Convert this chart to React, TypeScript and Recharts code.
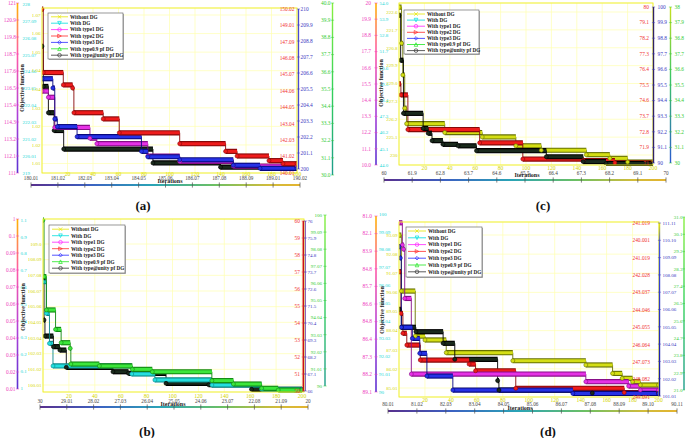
import React from 'react';
import { ComposedChart, Line, Scatter, ErrorBar, XAxis, YAxis, CartesianGrid } from 'recharts';

const W = 685;
const H = 438;
const SERIF = '"Liberation Serif", "DejaVu Serif", serif';

const ITER_TICKS = [20, 40, 60, 80, 100, 120, 140, 160, 180, 200];

const NAMES = ['Without DG', 'With DG', 'With type1 DG', 'With type2 DG', 'With type3 DG', 'With type0.9 pf DG', 'With type@unity pf DG'];
const CORE = ['#d4de14', '#24dede', '#e632e6', '#ee1c1c', '#2632e6', '#3ce63c', '#1a2a1c'];
const EDGE = ['#667000', '#0a8888', '#880e88', '#880808', '#08087e', '#108810', '#000000'];
const LEG_LINE = ['#e6e600', '#00dede', '#ff22ff', '#ff2a2a', '#2a2aff', '#22e622', '#333333'];
const LEG_MARK = ['x', 'tdown', 'circle', 'tright', 'diamond', 'tup', 'circle'];

const T_PINK = '#ee3cbe';
const T_CYAN = '#22d6d6';
const T_YEL = '#d6d600';
const T_RED = '#f03232';
const T_BLUE = '#3a3ac2';
const T_GREEN = '#34cc34';

const GR_PINK = [[0, '#ffb400'], [0.3, '#ff5aa8'], [0.65, '#b040d8'], [1, '#5a32d2']];
const GR_GREEN = [[0, '#88f040'], [0.5, '#34d25a'], [1, '#1c9c8c']];
const GR_GREEN_C = [[0, '#c8e020'], [0.45, '#3cc864'], [1, '#2a5ad0']];
const GR_BLUE_D = [[0, '#e8e800'], [0.12, '#4050e0'], [1, '#12129c']];
const GR_BAR = [[0, '#58308e'], [0.22, '#3c62c2'], [0.45, '#2aa4b6'], [0.68, '#6cc064'], [0.88, '#d0bc3c'], [1, '#e4b430']];

// ---------- (a) ----------
const A_PINK = ['111', '112.1', '113.2', '114.3', '115.4', '116.5', '117.6', '118.7', '119.8', '120.9', '121'];
const A_CYAN = ['219', '220.01', '221.02', '222.03', '222.04', '223.05', '224.06', '225.07', '226.08', '227.09', '228'];
const A_YEL = ['1.01', '1.02', '1.02', '1.03', '1.04', '1.04', '1.05', '1.06', '1.07'];
const A_RED = ['140.01', '141.02', '142.03', '143.04', '144.05', '144.06', '145.07', '146.08', '147.09', '149.01', '150.02'];
const A_BLUE = ['200', '201.1', '202.2', '203.3', '204.4', '205.5', '206.6', '207.7', '208.8', '209.9', '210'];
const A_GREEN = ['30.0', '31.1', '32.2', '33.3', '34.4', '35.5', '36.6', '37.7', '38.8', '39.9', '40.0'];
const A_BAR = ['180.01', '181.02', '182.03', '183.04', '184.05', '185.06', '186.07', '187.08', '188.09', '189.01', '190.02'];

const A_RED_X = [0, 1, 16.7, 24, 25, 48, 60.6, 108, 144, 153, 178, 189, 200];
const A_RED_Y = [121.6, 117.5, 116.7, 116.5, 114.9, 114.5, 113.6, 112.9, 112.4, 112.1, 111.8, 111.6, 111.6];
const A_BLUE_X = [0, 8.5, 10, 12, 27.5, 78, 83, 108, 150, 171, 200];
const A_BLUE_Y = [117.1, 116.5, 114.5, 114.0, 113.35, 112.4, 112.05, 111.85, 111.5, 111.3, 111.3];
const A_MAG_X = [0, 5, 10, 37.6, 43, 83, 108, 150, 200];
const A_MAG_Y = [116.3, 115.9, 113.95, 113.25, 112.9, 112.1, 111.75, 111.45, 111.45];
const A_BLK_X = [0, 1, 5, 9.5, 17, 87, 140, 200];
const A_BLK_Y = [119.2, 116.6, 114.9, 113.75, 112.55, 111.65, 111.38, 111.38];

// ---------- (b) ----------
const B_PINK = ['0.01', '0.02', '0.03', '0.04', '0.05', '0.06', '0.07', '0.08', '0.09', '0.1', '1'];
const B_CYAN = ['1', '0.1', '0.2', '0.3', '0.4', '0.5', '0.6', '0.7', '0.8', '0.9', '1.1'];
const B_YEL = ['100.01', '101.02', '102.03', '103.04', '104.05', '105.06', '106.07', '107.08', '108.09', '109.0'];
const B_RED = ['50', '51', '52', '53', '54', '55', '56', '57', '58', '59', '60'];
const B_BLUE = ['66', '67.1', '68.2', '69.3', '70.4', '71.5', '72.6', '73.7', '74.8', '75.9', '76'];
const B_GREEN = ['90', '91.01', '92.02', '93.03', '94.04', '95.05', '96.06', '97.07', '98.08', '99.09', '100'];
const B_BAR = ['30', '29.01', '28.02', '27.03', '26.04', '25.05', '24.06', '23.07', '22.08', '21.09', '20'];

const B_GREEN_X = [0, 0.8, 2.6, 9.7, 14, 21, 21.5, 43.5, 69, 84.4, 130.4, 147, 168.8, 181.6, 200];
const B_GREEN_Y = [0.11, 0.0768, 0.0573, 0.0459, 0.0381, 0.0348, 0.0256, 0.0245, 0.0225, 0.0211, 0.0159, 0.0139, 0.0114, 0.0104, 0.0104];
const B_CYAN_X = [0, 2.6, 5, 7.7, 68.5, 86.4, 130.4, 168.8, 200];
const B_CYAN_Y = [0.0739, 0.0553, 0.0377, 0.0245, 0.0198, 0.0163, 0.0133, 0.0108, 0.0108];
const B_BLK_X = [0, 0.8, 1.5, 8, 13, 18, 54, 66, 95, 128, 161, 200];
const B_BLK_Y = [0.0748, 0.0514, 0.042, 0.0358, 0.0338, 0.0237, 0.0211, 0.0202, 0.0143, 0.0135, 0.0108, 0.0108];

// ---------- (c) ----------
const C_PINK = ['10.0', '11.1', '12.2', '13.3', '14.4', '15.5', '16.6', '17.7', '18.8', '19.9', '20'];
const C_CYAN = ['44.0', '45.1', '46.2', '47.3', '48.4', '49.5', '50.6', '51.7', '52.8', '53.9', '54.0'];
const C_YEL = ['230', '225.1', '226.2', '227.3', '229.0', '229.9', '220.8', '221.7', '222.6'];
const C_RED = ['71', '71.9', '72.8', '73.7', '74.6', '75.5', '76.4', '77.3', '78.2', '79.1', '80'];
const C_BLUE = ['90', '91.1', '92.2', '93.3', '94.4', '95.5', '96.6', '97.7', '98.8', '99.9', '100'];
const C_GREEN = ['30', '31.1', '32.2', '33.3', '34.4', '35.5', '36.6', '37.7', '36.8', '37.9', '38'];
const C_BAR = ['60', '61.9', '62.8', '63.7', '64.6', '65.5', '66.4', '67.3', '68.2', '69.1', '70'];

const C_OLV_X = [0, 2, 3, 4.5, 6, 36, 65.5, 92, 112, 147.5, 166, 180, 200];
const C_OLV_Y = [20.7, 18.25, 16.1, 13.85, 12.8, 12.2, 11.9, 11.3, 11.0, 10.7, 10.45, 10.2, 10.2];
const C_BLK_X = [0, 1.3, 3.5, 19, 23, 26, 34.6, 46.5, 61, 116, 145, 163, 200];
const C_BLK_Y = [20.15, 17.1, 13.5, 12.48, 12.15, 11.65, 11.4, 11.3, 10.97, 10.56, 10.23, 10.1, 10.1];
const C_RED_X = [0, 1.5, 7, 63.5, 97.5, 145, 170, 200];
const C_RED_Y = [15.5, 14.75, 12.4, 11.5, 10.4, 10.3, 10.15, 10.15];

// ---------- (d) ----------
const D_PINK = ['89.1', '88.2', '87.3', '86.4', '84.8', '86.6', '85.7', '84.8', '83.9', '82.1', '81.0'];
const D_CYAN = ['90', '91.01', '92.02', '93.03', '94.04', '95.05', '96.06', '97.07', '98.08', '99.09', '100'];
const D_YEL = ['85.01', '86.02', '87.03', '88.04', '89.05', '90.06', '91.07', '92.08', '93.09'];
const D_RED = ['249.091', '248.082', '247.073', '246.064', '245.055', '244.046', '243.037', '242.028', '241.019', '240.001', '241.019'];
const D_BLUE = ['101.01', '102.02', '103.03', '104.04', '105.05', '106.06', '107.07', '108.08', '109.09', '110.10', '111.11'];
const D_GREEN = ['21.0', '22.9', '23.8', '24.7', '25.6', '26.5', '27.4', '28.3', '29.2', '30.1', '31.0'];
const D_BAR = ['80.01', '81.02', '82.03', '83.04', '84.05', '85.06', '86.07', '87.08', '88.09', '89.10', '90.11'];

const D_OLV_X = [0, 1.8, 12.5, 20, 36.4, 87.7, 144, 164.6, 172, 180, 186, 200];
const D_OLV_Y = [98.9, 95.72, 93.16, 92.94, 92.22, 91.76, 91.52, 91.04, 90.76, 90.57, 90.38, 90.38];
const D_MAG_X = [0, 2.6, 3.5, 4.4, 9.5, 144, 177, 186, 200];
const D_MAG_Y = [99.6, 98.34, 98.1, 95.3, 91.0, 90.57, 90.32, 90.09, 90.09];
const D_BLUE_X = [0, 1, 1.8, 10.3, 16, 21.5, 41.5, 134, 200];
const D_BLUE_Y = [98.24, 97.6, 93.66, 93.03, 92.18, 90.89, 90.09, 89.9, 89.9];
const D_RED_X = [0, 1.5, 3, 6, 16.4, 54, 59, 90, 173.6, 200];
const D_RED_Y = [96.82, 94.45, 93.32, 92.65, 91.8, 91.57, 91.19, 90.19, 89.95, 89.95];
const D_BLK_X = [0, 1.8, 13, 34, 43, 76, 77, 149, 200];
const D_BLK_Y = [94.68, 93.66, 93.41, 92.75, 91.84, 90.63, 90.09, 89.92, 89.92];

// domain helpers: value v0 lands on pixel p0 and v1 on p1 for a plot spanning the given edges
const fitY = (v0, p0, v1, p1, top, bottom) => {
  const s = (v1 - v0) / (p0 - p1);
  return [v0 - (bottom - p0) * s, v1 + (p1 - top) * s];
};
const fitX = (v0, p0, v1, p1, left, right) => {
  const s = (v1 - v0) / (p1 - p0);
  return [v0 - (p0 - left) * s, v1 + (right - p1) * s];
};

const toPoints = (xs, ys) =>
  xs.map((x, i) => ({ x, y: ys[i], ex: [0, i + 1 < xs.length ? xs[i + 1] - x : 0] }));

const Grad = ({ id, stops, horizontal }) => (
  <defs>
    <linearGradient id={id} x1="0" y1="0" x2={horizontal ? '1' : '0'} y2={horizontal ? '0' : '1'}>
      {stops.map(([o, c]) => <stop key={o} offset={o} stopColor={c} />)}
    </linearGradient>
  </defs>
);

const yTick = (ax, geo, tag) => (props) => {
  const { y, payload } = props;
  const k = payload.value;
  const ln = ax.line;
  const gid = `g-${tag}-${ax.id}`;
  const yTop = Math.min(ax.y0, ax.y1);
  const yBot = Math.max(ax.y0, ax.y1);
  return (
    <g>
      {k === 0 && ax.frame ? (
        <rect x={geo.left} y={geo.top} width={geo.right - geo.left} height={geo.bottom - geo.top} fill="none" stroke="#eeee2a" strokeWidth={0.9} />
      ) : null}
      {k === 0 && ln ? (
        <g>
          {ln.grad ? <Grad id={gid} stops={ln.grad} /> : null}
          <rect x={ln.x - ln.w / 2} y={yTop} width={ln.w} height={yBot - yTop} fill={ln.grad ? `url(#${gid})` : ln.color} />
        </g>
      ) : null}
      {ln ? <line x1={ln.x - 1.6} x2={ln.x + 1.6} y1={y} y2={y} stroke={ax.color} strokeWidth={0.5} /> : null}
      <text x={ax.textX} y={y + 1.8} textAnchor={ax.anchor} fill={ax.color} fontSize={ax.fs || 5.4} fontFamily={SERIF}>
        {ax.labels[k]}
      </text>
    </g>
  );
};

const iterTick = (yText) => (props) => (
  <text x={props.x} y={yText} textAnchor="middle" fill="#d4d400" fontSize={5.6} fontFamily={SERIF}>
    {props.payload.value}
  </text>
);

const barTick = (bar, tag) => (props) => {
  const { x, payload } = props;
  const k = payload.value;
  return (
    <g>
      {k === 0 ? (
        <g>
          <Grad id={`bar-${tag}`} stops={GR_BAR} horizontal />
          <rect x={bar.x0} y={bar.y - 1} width={bar.x1 - bar.x0} height={2} fill={`url(#bar-${tag})`} />
        </g>
      ) : null}
      <line x1={x} x2={x} y1={bar.y - 2.6} y2={bar.y + 2.6} stroke="#505050" strokeWidth={0.7} />
      <text x={x} y={bar.textY} textAnchor="middle" fill="#444" fontSize={5.2} fontFamily={SERIF}>
        {bar.labels[k]}
      </text>
    </g>
  );
};

function Panel({ tag, geo, iterAt, iterY, valFit, axes, bar, series }) {
  const { left, right, top, bottom } = geo;
  const valDomain = fitY(valFit[0], valFit[1], valFit[2], valFit[3], top, bottom);
  const iterDomain = fitX(0, iterAt[0], 200, iterAt[1], left, right);
  const nBar = bar.labels.length - 1;
  const barDomain = fitX(0, bar.x0, nBar, bar.x1, left, right);
  const barRows = bar.labels.map((label, i) => ({ i, label }));
  // every decorative axis takes 1px (an axis of size 0 is not drawn), so the margins give that back
  return (
    <div style={{ position: 'absolute', left: 0, top: 0 }}>
      <ComposedChart width={W} height={H} data={barRows} margin={{ top, left: left - axes.length, right: W - right, bottom: H - bottom - 2 }}>
        <CartesianGrid xAxisId="it" yAxisId="yl" stroke="#ffffb0" strokeWidth={0.7} />
        <XAxis xAxisId="it" dataKey="x" type="number" domain={iterDomain} allowDataOverflow ticks={ITER_TICKS} interval={0} height={1} axisLine={false} tickLine={false} tick={iterTick(iterY)} />
        <XAxis xAxisId="bar" dataKey="i" type="number" domain={barDomain} allowDataOverflow ticks={barRows.map((r) => r.i)} interval={0} height={1} axisLine={false} tickLine={false} tick={barTick(bar, tag)} />
        <YAxis yAxisId="val" dataKey="y" type="number" domain={valDomain} allowDataOverflow hide />
        {axes.map((ax) => {
          const n = ax.labels.length - 1;
          return (
            <YAxis
              key={ax.id}
              yAxisId={ax.id}
              type="number"
              domain={fitY(0, ax.y0, n, ax.y1, top, bottom)}
              allowDataOverflow
              ticks={ax.labels.map((_, i) => i)}
              interval={0}
              width={1}
              axisLine={false}
              tickLine={false}
              tick={yTick(ax, geo, tag)}
            />
          );
        })}
        {series.map((s, i) => {
          const pts = toPoints(s.x, s.y);
          const core = CORE[s.c];
          const edge = EDGE[s.c];
          return (
            <React.Fragment key={`${tag}-${i}`}>
              <Line data={pts} dataKey="y" xAxisId="it" yAxisId="val" type="stepAfter" stroke={edge} strokeWidth={0.9} dot={false} isAnimationActive={false} />
              <Scatter
                data={pts}
                dataKey="y"
                xAxisId="it"
                yAxisId="val"
                isAnimationActive={false}
                shape={(p) => <circle cx={p.cx} cy={p.cy} r={2} fill={core} stroke={edge} strokeWidth={0.6} />}
              >
                <ErrorBar dataKey="ex" direction="x" width={0} stroke={edge} strokeWidth={5.2} isAnimationActive={false} />
                <ErrorBar dataKey="ex" direction="x" width={0} stroke={core} strokeWidth={3} isAnimationActive={false} />
              </Scatter>
            </React.Fragment>
          );
        })}
      </ComposedChart>
    </div>
  );
}

const PANEL_A = {
  tag: 'a',
  geo: { left: 42, right: 297, top: 8, bottom: 173 },
  iterAt: [42, 297],
  iterY: 176,
  valFit: [111, 173, 122, 3],
  axes: [
    { id: 'pk', labels: A_PINK, color: T_PINK, textX: 16, anchor: 'end', y0: 173, y1: 3, line: { x: 17.5, w: 1.6, grad: GR_PINK } },
    { id: 'cy', labels: A_CYAN, color: T_CYAN, textX: 22.5, anchor: 'start', y0: 173, y1: 4, fs: 5 },
    { id: 'yl', labels: A_YEL, color: T_YEL, textX: 40.5, anchor: 'end', y0: 163.5, y1: 15, frame: true, fs: 5 },
    { id: 'rd', labels: A_RED, color: T_RED, textX: 294.5, anchor: 'end', y0: 173, y1: 9 },
    { id: 'bl', labels: A_BLUE, color: T_BLUE, textX: 300.5, anchor: 'start', y0: 169, y1: 9, line: { x: 298.5, w: 1.3, color: '#4a4ad0' } },
    { id: 'gr', labels: A_GREEN, color: T_GREEN, textX: 330.5, anchor: 'end', y0: 175, y1: 3, line: { x: 332.5, w: 1.4, grad: GR_GREEN } },
  ],
  bar: { labels: A_BAR, x0: 31, x1: 300, y: 185, textY: 180 },
  series: [
    { x: A_BLK_X, y: A_BLK_Y, c: 6 },
    { x: A_MAG_X, y: A_MAG_Y, c: 2 },
    { x: A_BLUE_X, y: A_BLUE_Y, c: 4 },
    { x: A_RED_X, y: A_RED_Y, c: 3 },
  ],
};

const PANEL_B = {
  tag: 'b',
  geo: { left: 43, right: 304, top: 219, bottom: 392 },
  iterAt: [43, 302],
  iterY: 398,
  valFit: [0.01, 390.7, 0.11, 220],
  axes: [
    { id: 'pk', labels: B_PINK, color: T_PINK, textX: 15.5, anchor: 'end', y0: 389, y1: 219, line: { x: 17.5, w: 1.6, grad: GR_PINK } },
    { id: 'cy', labels: B_CYAN, color: T_CYAN, textX: 20.5, anchor: 'start', y0: 388, y1: 220, fs: 5 },
    { id: 'yl', labels: B_YEL, color: T_YEL, textX: 41.5, anchor: 'end', y0: 385, y1: 244, frame: true, fs: 5 },
    { id: 'rd', labels: B_RED, color: T_RED, textX: 300, anchor: 'end', y0: 391, y1: 221, line: { x: 303.3, w: 1.5, color: '#d01010' } },
    { id: 'bl', labels: B_BLUE, color: T_BLUE, textX: 307.5, anchor: 'start', y0: 391, y1: 221, line: { x: 305.3, w: 1, color: '#7040b0' }, fs: 5 },
    { id: 'gr', labels: B_GREEN, color: T_GREEN, textX: 322, anchor: 'end', y0: 386, y1: 215, line: { x: 325, w: 1.4, grad: GR_GREEN }, fs: 5 },
  ],
  bar: { labels: B_BAR, x0: 40, x1: 308, y: 407, textY: 402.5 },
  series: [
    { x: B_BLK_X, y: B_BLK_Y, c: 6 },
    { x: B_CYAN_X, y: B_CYAN_Y, c: 1 },
    { x: B_GREEN_X, y: B_GREEN_Y, c: 5 },
  ],
};

const PANEL_C = {
  tag: 'c',
  geo: { left: 399, right: 653, top: 3, bottom: 165 },
  iterAt: [399, 653],
  iterY: 169.5,
  valFit: [10, 165, 21, 2.7],
  axes: [
    { id: 'pk', labels: C_PINK, color: T_PINK, textX: 371, anchor: 'end', y0: 165, y1: 3, line: { x: 376, w: 1.6, grad: GR_PINK } },
    { id: 'cy', labels: C_CYAN, color: T_CYAN, textX: 379.5, anchor: 'start', y0: 165, y1: 3, fs: 5 },
    { id: 'yl', labels: C_YEL, color: T_YEL, textX: 397.5, anchor: 'end', y0: 155, y1: 12, frame: true, fs: 5 },
    { id: 'rd', labels: C_RED, color: T_RED, textX: 649, anchor: 'end', y0: 163, y1: 7 },
    { id: 'bl', labels: C_BLUE, color: T_BLUE, textX: 657.5, anchor: 'start', y0: 163, y1: 7, line: { x: 653.5, w: 1.4, color: '#302266' } },
    { id: 'gr', labels: C_GREEN, color: T_GREEN, textX: 674.5, anchor: 'start', y0: 163, y1: 7, line: { x: 670.5, w: 1.4, grad: GR_GREEN_C } },
  ],
  bar: { labels: C_BAR, x0: 384, x1: 666, y: 180, textY: 175 },
  series: [
    { x: C_OLV_X, y: C_OLV_Y, c: 0 },
    { x: C_RED_X, y: C_RED_Y, c: 3 },
    { x: C_BLK_X, y: C_BLK_Y, c: 6 },
  ],
};

const PANEL_D = {
  tag: 'd',
  geo: { left: 399, right: 659, top: 222, bottom: 397 },
  iterAt: [399, 658.5],
  iterY: 401.5,
  valFit: [90, 391.7, 100.1, 214],
  axes: [
    { id: 'pk', labels: D_PINK, color: T_PINK, textX: 372, anchor: 'end', y0: 392, y1: 216, line: { x: 376, w: 1.6, grad: GR_PINK } },
    { id: 'cy', labels: D_CYAN, color: T_CYAN, textX: 379, anchor: 'start', y0: 392, y1: 214, fs: 5 },
    { id: 'yl', labels: D_YEL, color: T_YEL, textX: 397.5, anchor: 'end', y0: 388, y1: 235, frame: true, fs: 5 },
    { id: 'rd', labels: D_RED, color: T_RED, textX: 650, anchor: 'end', y0: 397, y1: 223 },
    { id: 'bl', labels: D_BLUE, color: T_BLUE, textX: 662.5, anchor: 'start', y0: 396, y1: 223, line: { x: 659.5, w: 1.4, grad: GR_BLUE_D }, fs: 5 },
    { id: 'gr', labels: D_GREEN, color: T_GREEN, textX: 682.5, anchor: 'end', y0: 390, y1: 217, line: { x: 684, w: 1.4, grad: GR_GREEN }, fs: 5 },
  ],
  bar: { labels: D_BAR, x0: 388, x1: 677, y: 411, textY: 406 },
  series: [
    { x: D_OLV_X, y: D_OLV_Y, c: 0 },
    { x: D_BLK_X, y: D_BLK_Y, c: 6 },
    { x: D_RED_X, y: D_RED_Y, c: 3 },
    { x: D_MAG_X, y: D_MAG_Y, c: 2 },
    { x: D_BLUE_X, y: D_BLUE_Y, c: 4 },
  ],
};

const LEGENDS = [
  { x: 48, y: 13, w: 75, h: 46, y0: 16.8, dy: 6.4, lx0: 51, lx1: 68, tx: 70 },
  { x: 49, y: 225, w: 76, h: 48, y0: 229.2, dy: 6.5, lx0: 52, lx1: 69, tx: 71 },
  { x: 404, y: 10, w: 75, h: 44, y0: 14, dy: 6.1, lx0: 407, lx1: 425, tx: 427 },
  { x: 406, y: 227, w: 76, h: 50, y0: 231, dy: 6.8, lx0: 408, lx1: 426, tx: 428 },
];

const AXIS_TITLES = [
  { it: [170, 183], of: [22, 88] },
  { it: [173, 405.5], of: [23, 307] },
  { it: [527, 177], of: [381, 83] },
  { it: [520, 409.5], of: [382, 310] },
];

const CAPTIONS = [
  { t: '(a)', x: 143, y: 210 },
  { t: '(b)', x: 147, y: 436 },
  { t: '(c)', x: 543, y: 210 },
  { t: '(d)', x: 548, y: 436 },
];

function Marker({ shape, cx, cy, color }) {
  const s = 1.8;
  if (shape === 'x') {
    return (
      <g stroke={color} strokeWidth={0.7}>
        <line x1={cx - s} y1={cy - s} x2={cx + s} y2={cy + s} />
        <line x1={cx - s} y1={cy + s} x2={cx + s} y2={cy - s} />
      </g>
    );
  }
  if (shape === 'circle') return <circle cx={cx} cy={cy} r={s} fill="none" stroke={color} strokeWidth={0.7} />;
  if (shape === 'diamond') return <polygon points={`${cx},${cy - s} ${cx + s},${cy} ${cx},${cy + s} ${cx - s},${cy}`} fill="none" stroke={color} strokeWidth={0.7} />;
  if (shape === 'tup') return <polygon points={`${cx},${cy - s} ${cx + s},${cy + s} ${cx - s},${cy + s}`} fill="none" stroke={color} strokeWidth={0.7} />;
  if (shape === 'tdown') return <polygon points={`${cx - s},${cy - s} ${cx + s},${cy - s} ${cx},${cy + s}`} fill="none" stroke={color} strokeWidth={0.7} />;
  return <polygon points={`${cx - s},${cy - s} ${cx + s},${cy} ${cx - s},${cy + s}`} fill="none" stroke={color} strokeWidth={0.7} />;
}

function LegendBox({ b }) {
  return (
    <g>
      <rect x={b.x + 1} y={b.y + 1} width={b.w} height={b.h} fill="#b8b8b8" />
      <rect x={b.x} y={b.y} width={b.w} height={b.h} fill="#fff" stroke="#555" strokeWidth={0.6} />
      {NAMES.map((n, i) => {
        const cy = b.y0 + i * b.dy;
        return (
          <g key={n}>
            <line x1={b.lx0} x2={b.lx1} y1={cy} y2={cy} stroke={LEG_LINE[i]} strokeWidth={0.8} />
            <Marker shape={LEG_MARK[i]} cx={(b.lx0 + b.lx1) / 2} cy={cy} color={LEG_LINE[i]} />
            <text x={b.tx} y={cy + 1.8} fontSize={5.2} fontWeight="bold" fontFamily={SERIF} fill="#222">
              {n}
            </text>
          </g>
        );
      })}
    </g>
  );
}

export default function App() {
  return (
    <div style={{ position: 'absolute', left: 0, top: 0, width: W, height: H, background: '#fff', overflow: 'hidden' }}>
      <Panel {...PANEL_A} />
      <Panel {...PANEL_B} />
      <Panel {...PANEL_C} />
      <Panel {...PANEL_D} />
      <svg width={W} height={H} style={{ position: 'absolute', left: 0, top: 0 }}>
        {LEGENDS.map((b, i) => <LegendBox key={i} b={b} />)}
        {AXIS_TITLES.map((a, i) => (
          <g key={i} fontFamily={SERIF} fontWeight="bold" fontSize={6} fill="#222">
            <text x={a.it[0]} y={a.it[1]} textAnchor="middle">Iterations</text>
            <text x={a.of[0]} y={a.of[1]} textAnchor="middle" transform={`rotate(-90 ${a.of[0]} ${a.of[1]})`} dy={2}>
              Objective function
            </text>
          </g>
        ))}
        {CAPTIONS.map((c) => (
          <text key={c.t} x={c.x} y={c.y} textAnchor="middle" fontFamily={SERIF} fontWeight="bold" fontSize={13} fill="#111">
            {c.t}
          </text>
        ))}
      </svg>
    </div>
  );
}
